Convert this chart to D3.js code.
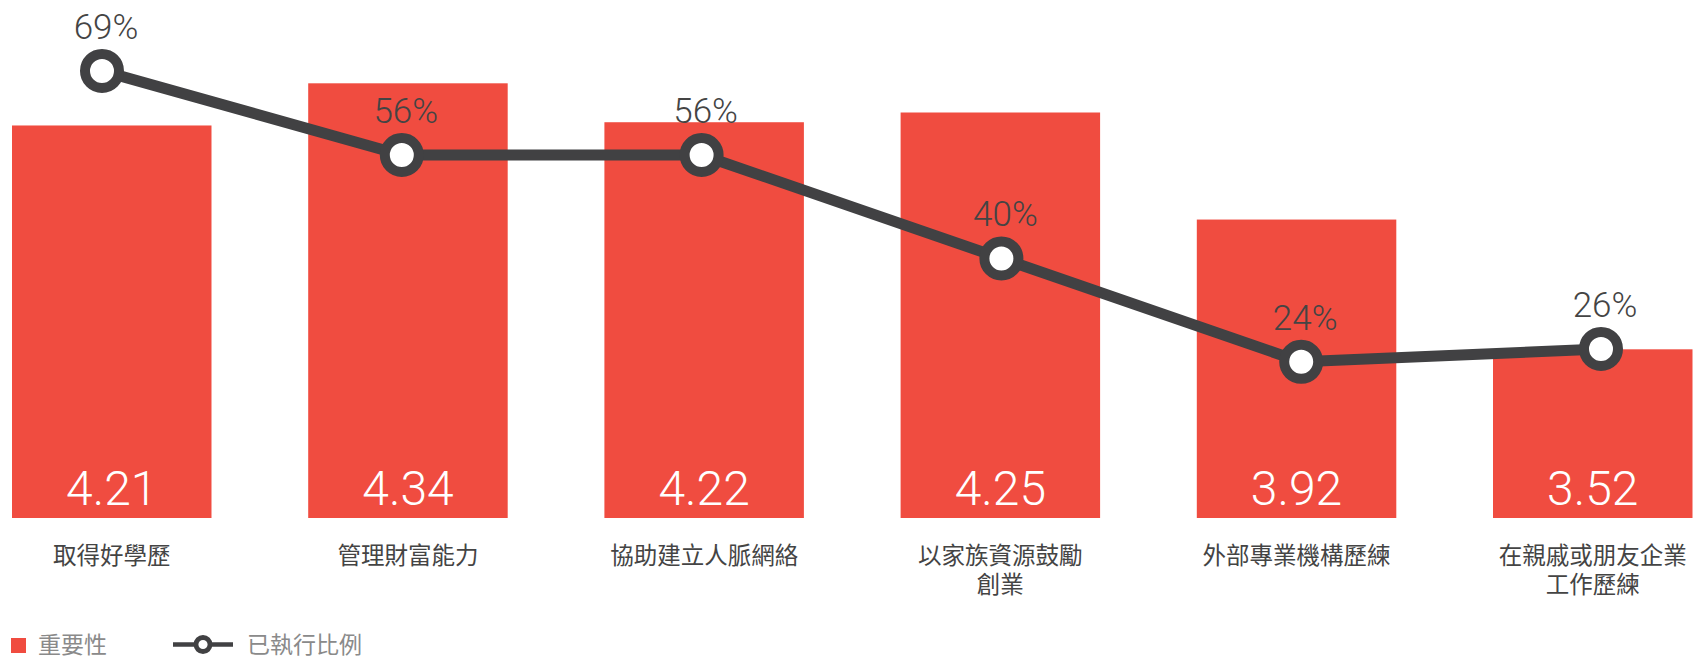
<!DOCTYPE html>
<html>
<head>
<meta charset="utf-8">
<script src="https://cdn.jsdelivr.net/npm/d3@7"></script>
<style>
  html, body { margin: 0; padding: 0; background: #fff; }
  svg { display: block; }
</style>
</head>
<body>
<svg id="chart" width="1703" height="656"></svg>
<script>
// ---- data ----
const categories = ["取得好學歷", "管理財富能力", "協助建立人脈網絡", "以家族資源鼓勵\n創業", "外部專業機構歷練", "在親戚或朋友企業\n工作歷練"];
const importance = [4.21, 4.34, 4.22, 4.25, 3.92, 3.52];
const executedRatio = [0.69, 0.56, 0.56, 0.40, 0.24, 0.26];
const seriesNames = ["重要性", "已執行比例"];

// ---- styles ----
const RED = "#f04c40";
const DARK = "#414143";
const LABEL = "#444444";
const LEGEND_TEXT = "#8a8a8a";
const NUM_FONT = "Roboto, 'Helvetica Neue', Arial, sans-serif";
const CJK_FONT = "'Noto Sans CJK TC', 'Noto Sans CJK SC', sans-serif";

const svg = d3.select("#chart");

// ---- scales ----
const x = d3.scaleBand().domain(categories).range([12, 1692.5]).paddingInner(0.3265).paddingOuter(0);
const xLine = d3.scalePoint().domain(categories).range([102, 1601]);
const yBar = d3.scaleLinear().domain([3, 5]).range([518, -130.8]);
const yLine = d3.scaleLinear().domain([0, 1]).range([517, -129.5]);

const data = categories.map((c, i) => ({ c, v: importance[i], p: executedRatio[i] }));

// ---- bars ----
svg.append("g").selectAll("rect").data(data).join("rect")
  .attr("x", d => x(d.c))
  .attr("y", d => yBar(d.v))
  .attr("width", x.bandwidth())
  .attr("height", d => yBar(3) - yBar(d.v))
  .attr("fill", RED);

// bar value labels
svg.append("g").selectAll("text").data(data).join("text")
  .attr("x", d => x(d.c) + x.bandwidth() / 2)
  .attr("y", yBar(3) - 13)
  .attr("text-anchor", "middle")
  .attr("fill", "#fff")
  .style("font-family", NUM_FONT)
  .style("font-weight", 300)
  .style("font-size", "48px")
  .text(d => d.v.toFixed(2));

// ---- x axis labels (one text per line) ----
const lines = [];
data.forEach(d => d.c.split("\n").forEach((t, i) => lines.push({ c: d.c, t, i })));
svg.append("g").selectAll("text").data(lines).join("text")
  .attr("x", d => x(d.c) + x.bandwidth() / 2)
  .attr("y", d => 564 + d.i * 29)
  .attr("text-anchor", "middle")
  .attr("fill", LABEL)
  .style("font-family", CJK_FONT)
  .style("font-size", "23.5px")
  .text(d => d.t);

// ---- line ----
const line = d3.line().x(d => xLine(d.c)).y(d => yLine(d.p));
svg.append("path").datum(data)
  .attr("d", line)
  .attr("fill", "none")
  .attr("stroke", DARK)
  .attr("stroke-width", 11)
  .attr("stroke-linejoin", "round");

svg.append("g").selectAll("circle").data(data).join("circle")
  .attr("cx", d => xLine(d.c))
  .attr("cy", d => yLine(d.p))
  .attr("r", 17)
  .attr("fill", "#fff")
  .attr("stroke", DARK)
  .attr("stroke-width", 10);

svg.append("g").selectAll("text").data(data).join("text")
  .attr("x", d => xLine(d.c) + 4)
  .attr("y", d => yLine(d.p) - 32)
  .attr("text-anchor", "middle")
  .attr("fill", LABEL)
  .style("font-family", NUM_FONT)
  .style("font-weight", 300)
  .style("font-size", "35px")
  .text(d => Math.round(d.p * 100) + "%");

// ---- legend ----
const lg = svg.append("g");
lg.append("rect").attr("x", 11).attr("y", 638).attr("width", 15).attr("height", 15).attr("fill", RED);
lg.append("text").attr("x", 38).attr("y", 653)
  .attr("fill", LEGEND_TEXT).style("font-family", CJK_FONT).style("font-size", "23px")
  .text(seriesNames[0]);
lg.append("line").attr("x1", 173).attr("x2", 233).attr("y1", 644.5).attr("y2", 644.5)
  .attr("stroke", DARK).attr("stroke-width", 4.5);
lg.append("circle").attr("cx", 203).attr("cy", 644.5).attr("r", 7).attr("fill", "#fff")
  .attr("stroke", DARK).attr("stroke-width", 4.8);
lg.append("text").attr("x", 247).attr("y", 653)
  .attr("fill", LEGEND_TEXT).style("font-family", CJK_FONT).style("font-size", "23px")
  .text(seriesNames[1]);
</script>
</body>
</html>
